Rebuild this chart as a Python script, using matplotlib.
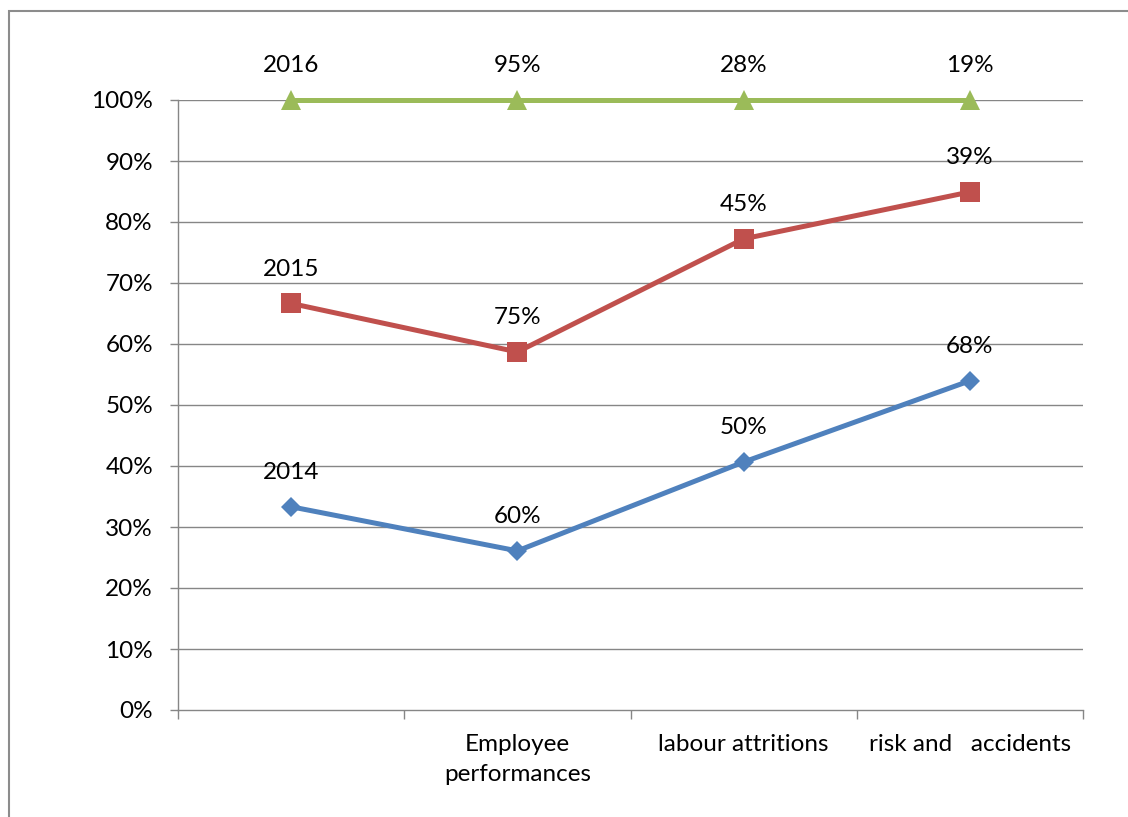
import matplotlib
matplotlib.use("Agg")
import matplotlib.pyplot as plt
from matplotlib.patches import Rectangle
from matplotlib.ticker import FixedLocator, PercentFormatter
import numpy as np

plt.rcParams['font.family'] = ['Lato', 'DejaVu Sans']

# Categories along the x axis (the first one carries the year values)
categories = ["", "Employee\nperformances", "labour attritions", "risk and   accidents"]

# Raw series values; the first entry of each series is the year itself
series_names = ["2014", "2015", "2016"]
values_2014 = [2014, 60, 50, 68]
values_2015 = [2015, 75, 45, 39]
values_2016 = [2016, 95, 28, 19]

colors = ["#4F81BD", "#C0504D", "#9BBB59"]
markers = ["D", "s", "^"]
marker_sizes = [10.2, 14.4, 14.6]

data = np.array([values_2014, values_2015, values_2016], dtype=float)
# 100% stacked: cumulative share of each column
shares = np.cumsum(data, axis=0) / data.sum(axis=0) * 100.0


def label_text(v):
    return f"{int(v)}" if v > 1000 else f"{int(v)}%"


FS = 17.5
W, H = 1128, 817
fig = plt.figure(figsize=(W / 100, H / 100), dpi=100)
fig.patch.set_facecolor("white")

# Chart frame
fig.add_artist(Rectangle((9 / W, -0.05), 1.2, 1.05 - 11 / H,
                         transform=fig.transFigure, fill=False,
                         edgecolor="#8C8C8C", linewidth=1.5, zorder=0))

left, right = 178 / W, 1083 / W
bottom, top = 1 - 710 / H, 1 - 100 / H
ax = fig.add_axes([left, bottom, right - left, top - bottom])

x = np.arange(len(categories))
ax.set_xlim(-0.5, len(categories) - 0.5)
ax.set_ylim(0, 100)

grid_color = "#868686"
for y in range(10, 101, 10):
    ax.axhline(y, color=grid_color, linewidth=1.0, zorder=1)

for i in range(len(series_names)):
    ax.plot(x, shares[i], color=colors[i], linewidth=3.6, marker=markers[i],
            markersize=marker_sizes[i], markeredgewidth=0, zorder=3,
            clip_on=False, solid_joinstyle="round")
    for xi, yi, v in zip(x, shares[i], data[i]):
        ax.annotate(label_text(v), (xi, yi), xytext=(0, 20),
                    textcoords="offset points", ha="center", va="baseline",
                    fontsize=FS, color="black", zorder=4)

for side in ["top", "right"]:
    ax.spines[side].set_visible(False)
for side in ["left", "bottom"]:
    ax.spines[side].set_color(grid_color)
    ax.spines[side].set_linewidth(1.0)

ax.yaxis.set_major_locator(FixedLocator(np.arange(0, 101, 10)))
ax.yaxis.set_major_formatter(PercentFormatter(decimals=0))
ax.tick_params(axis="y", direction="out", length=6, width=1.0,
               color=grid_color, pad=12, labelsize=FS)

ax.set_xticks(np.arange(-0.5, len(categories), 1.0), minor=True)
ax.tick_params(axis="x", which="minor", direction="out", length=6.5,
               width=1.0, color=grid_color)
ax.set_xticks(x)
ax.tick_params(axis="x", which="major", length=0, pad=17, labelsize=FS)
ax.set_xticklabels(categories)
for lbl in ax.get_xticklabels():
    lbl.set_linespacing(1.55)

fig.savefig("out.png", dpi=100, facecolor="white")
